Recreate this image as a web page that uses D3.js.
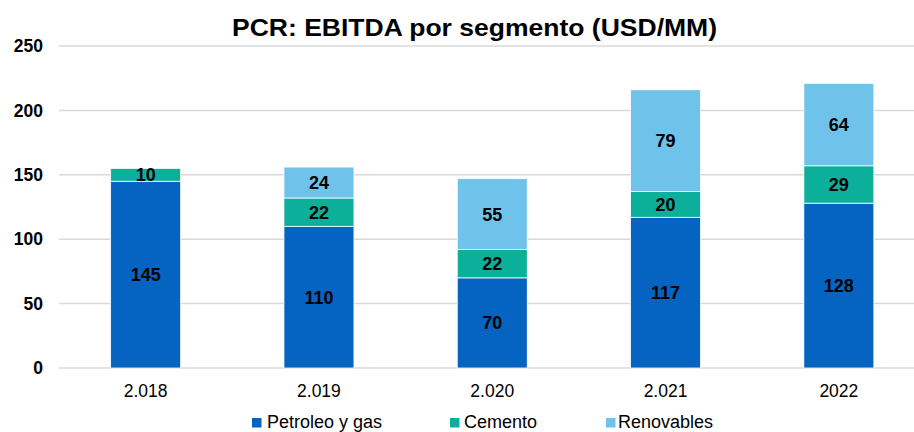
<!DOCTYPE html>
<html>
<head>
<meta charset="utf-8">
<script src="https://cdn.jsdelivr.net/npm/d3@7/dist/d3.min.js"></script>
<style>
  body { margin: 0; background: #fff; }
  text { font-family: "Liberation Sans", Arial, sans-serif; }
</style>
</head>
<body>
<div id="chart"></div>
<script>
const years = ["2.018", "2.019", "2.020", "2.021", "2022"];
const petroleo = [145, 110, 70, 117, 128];
const cemento = [10, 22, 22, 20, 29];
const renovables = [0, 24, 55, 79, 64];
const yTicks = [0, 50, 100, 150, 200, 250];
const seriesNames = ["Petroleo y gas", "Cemento", "Renovables"];
const colors = ["#0563C1", "#0CB09A", "#6FC3EA"];

const W = 914, H = 432;
const margin = {top: 46, left: 59, bottom: 64};
const plotW = 866.5;
const plotH = H - margin.top - margin.bottom; // 322

const svg = d3.select("#chart").append("svg")
  .attr("width", W).attr("height", H);

// build stacked rows
const rows = years.map((y, i) => ({
  year: y, "Petroleo y gas": petroleo[i], "Cemento": cemento[i], "Renovables": renovables[i]
}));
const stacked = d3.stack().keys(seriesNames)(rows);

const x = d3.scaleBand().domain(years).range([margin.left, margin.left + plotW]).paddingInner(0.596).paddingOuter(0.298);
const y = d3.scaleLinear().domain([0, 250]).range([margin.top + plotH, margin.top]);

// gridlines
svg.append("g").selectAll("line").data(yTicks).enter().append("line")
  .attr("x1", margin.left).attr("x2", margin.left + plotW)
  .attr("y1", d => y(d)).attr("y2", d => y(d))
  .attr("stroke", "#d9d9d9").attr("stroke-width", 1.5);

// y labels
svg.append("g").selectAll("text").data(yTicks).enter().append("text")
  .attr("x", 43).attr("y", d => y(d)).attr("dy", "0.35em")
  .attr("text-anchor", "end").attr("font-size", 17.5).attr("font-weight", "bold")
  .attr("fill", "#000").text(d => d);

// bars
const layers = svg.append("g").selectAll("g").data(stacked).enter().append("g")
  .attr("fill", (d, i) => colors[i]);
layers.selectAll("rect").data(d => d.filter(p => p[1] - p[0] > 0)).enter().append("rect")
  .attr("x", d => x(d.data.year))
  .attr("width", x.bandwidth())
  .attr("y", d => y(d[1]))
  .attr("height", d => y(d[0]) - y(d[1]))
  .attr("stroke", "#fff").attr("stroke-width", 0.8);

// value labels
stacked.forEach(layer => {
  svg.append("g").selectAll("text").data(layer.filter(p => p[1] - p[0] > 0)).enter().append("text")
    .attr("x", d => x(d.data.year) + x.bandwidth() / 2)
    .attr("y", d => (y(d[0]) + y(d[1])) / 2)
    .attr("dy", "0.36em")
    .attr("text-anchor", "middle").attr("font-size", 18).attr("font-weight", "bold")
    .attr("fill", "#000")
    .text(d => d[1] - d[0]);
});

// x labels
svg.append("g").selectAll("text").data(years).enter().append("text")
  .attr("x", d => x(d) + x.bandwidth() / 2).attr("y", 397)
  .attr("text-anchor", "middle").attr("font-size", 17.5).attr("fill", "#000")
  .text(d => d);

// title
svg.append("text").attr("x", 474.5).attr("y", 36)
  .attr("text-anchor", "middle").attr("font-size", 24).attr("font-weight", "bold")
  .attr("textLength", 485).attr("lengthAdjust", "spacingAndGlyphs")
  .attr("fill", "#000").text("PCR: EBITDA por segmento (USD/MM)");

// legend
const legendX = [252, 450, 606];
const legendGap = [15, 14, 12];
const lg = svg.append("g").selectAll("g").data(seriesNames).enter().append("g")
  .attr("transform", (d, i) => `translate(${legendX[i]}, 0)`);
lg.append("rect").attr("x", 0).attr("y", 418).attr("width", 9.5).attr("height", 9.5)
  .attr("fill", (d, i) => colors[i]);
lg.append("text").attr("x", (d, i) => legendGap[i]).attr("y", 428).attr("font-size", 18).attr("fill", "#000")
  .text(d => d);
</script>
</body>
</html>
